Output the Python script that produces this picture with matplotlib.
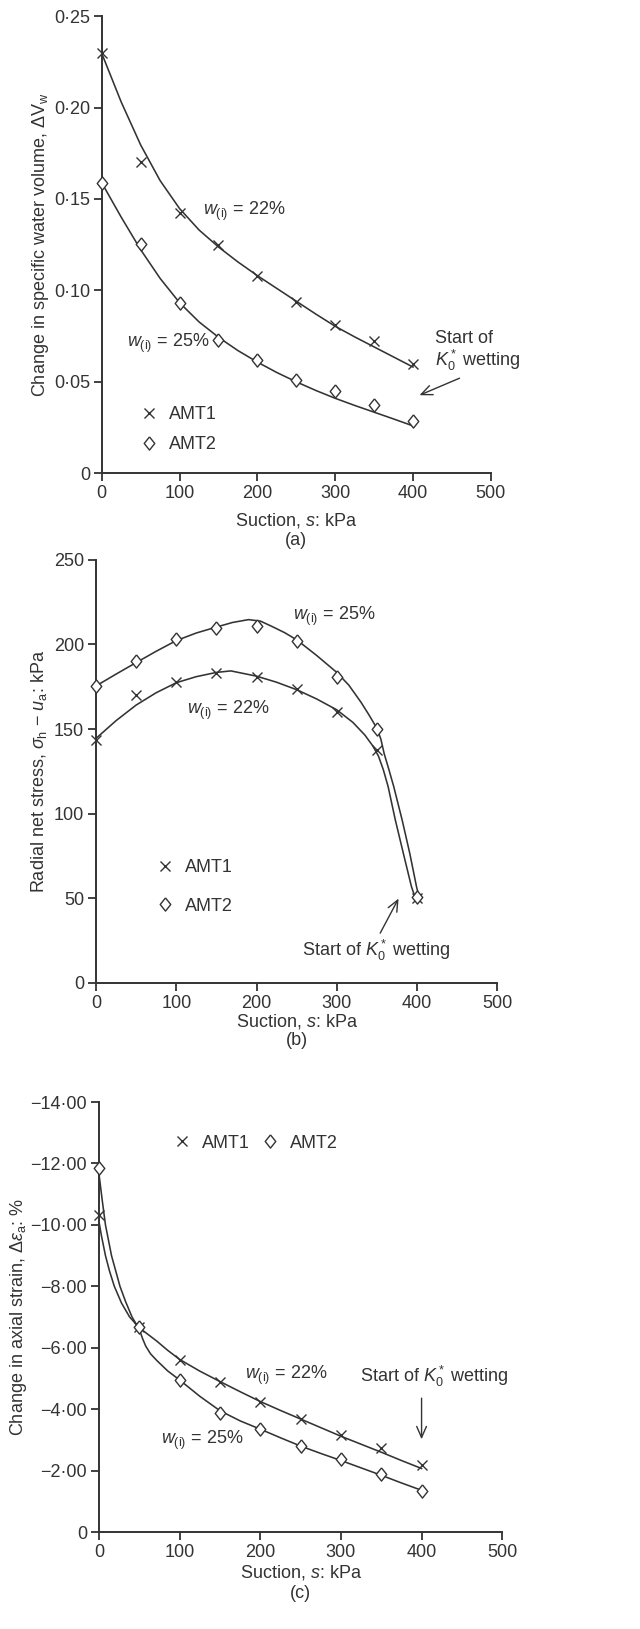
import matplotlib
matplotlib.use('Agg')
import matplotlib.pyplot as plt

plt.rcParams['font.family'] = ['Liberation Sans Narrow', 'Liberation Sans', 'DejaVu Sans']
plt.rcParams['mathtext.fontset'] = 'custom'
plt.rcParams['mathtext.rm'] = 'Liberation Sans'
plt.rcParams['mathtext.it'] = 'Liberation Sans:italic'
plt.rcParams['mathtext.bf'] = 'Liberation Sans:bold'

INK = '#333333'
FS = 13
DIAMOND = [(0, 1), (0.8, 0), (0, -1), (-0.8, 0), (0, 1)]

# measured points (suction, kPa)
suction = [0, 50, 100, 150, 200, 250, 300, 350, 400]

# (a) change in specific water volume
dvw_amt1 = [0.230, 0.170, 0.1425, 0.1246, 0.1077, 0.0936, 0.0808, 0.072, 0.0599]
dvw_amt2 = [0.1588, 0.1252, 0.0931, 0.0726, 0.0620, 0.0511, 0.0449, 0.037, 0.0283]
fit_a_s = [0, 25, 50, 75, 100, 125, 150, 175, 200, 225, 250, 275, 300, 325, 350, 375, 400]
fit_a_amt1 = [0.2296, 0.2030, 0.1795, 0.1600, 0.1447, 0.1330, 0.1237, 0.1155, 0.1080, 0.1010, 0.0940,
              0.0870, 0.0803, 0.0745, 0.0690, 0.0635, 0.0580]
fit_a_amt2 = [0.1588, 0.1400, 0.1222, 0.1065, 0.0932, 0.0827, 0.0743, 0.0670, 0.0607, 0.0550, 0.0499,
              0.0452, 0.0409, 0.0370, 0.0333, 0.0296, 0.0258]
ticks_a = [0, 0.05, 0.10, 0.15, 0.20, 0.25]
ticklabels_a = ['0', '0·05', '0·10', '0·15', '0·20', '0·25']

# (b) radial net stress
sig_amt1 = [143.5, 170, 178, 183, 180.6, 173.7, 160, 137.6, 50]
sig_amt2 = [175.5, 190, 203, 210, 211, 202, 181, 150, 51]
fit_b1_s = [0, 25, 50, 75, 100, 125, 150, 168, 200, 225, 250, 275, 300, 320, 335, 345, 352, 358, 364, 373, 383,
            393, 398]
fit_b1 = [144.5, 155, 164.2, 171.5, 177.4, 181, 183.5, 184.4, 181.3, 177.7, 173.3, 167.8, 161.4, 154, 146.5, 140,
          134, 126, 116, 96.2, 76.5, 57, 50]
fit_b2_s = [0, 25, 50, 75, 100, 125, 150, 170, 190, 205, 220, 235, 250, 275, 300, 315, 330, 340, 350, 355, 359,
            365, 371, 381.5, 391, 399.4, 402]
fit_b2 = [175.5, 182.5, 189.3, 196, 202.3, 206.8, 210.3, 213, 214.7, 213.8, 210.5, 207, 202.8, 193.5, 183.5, 176,
          166, 158.5, 150.5, 144, 135.6, 126, 116, 96.2, 76.5, 56.8, 51.8]
ticks_b = [0, 50, 100, 150, 200, 250]

# (c) change in axial strain
eps_amt1 = [-10.32, -6.68, -5.59, -4.89, -4.24, -3.67, -3.15, -2.75, -2.17]
eps_amt2 = [-11.84, -6.66, -4.94, -3.89, -3.35, -2.81, -2.37, -1.88, -1.34]
fit_c1_s = [0, 3, 8, 13, 19, 28, 38, 50, 60, 71.5, 85, 100, 125, 150, 175, 200, 225, 250, 275, 300, 325, 350,
            375, 400]
fit_c1 = [-10.1, -9.65, -9.0, -8.5, -8.0, -7.45, -7.0, -6.65, -6.45, -6.22, -5.92, -5.62, -5.24, -4.9, -4.57,
          -4.25, -3.96, -3.68, -3.4, -3.12, -2.86, -2.6, -2.33, -2.07]
fit_c2_s = [0, 4, 8, 15.5, 26, 33, 41, 50, 54, 58, 64, 71.5, 85, 100, 125, 150, 175, 200, 225, 250, 275, 300,
            325, 350, 375, 400]
fit_c2 = [-11.65, -10.8, -10.0, -9.0, -8.0, -7.5, -7.0, -6.6, -6.3, -6.05, -5.8, -5.59, -5.25, -4.95, -4.42,
          -3.95, -3.62, -3.35, -3.07, -2.8, -2.56, -2.33, -2.09, -1.85, -1.6, -1.36]
ticks_c = [0, -2, -4, -6, -8, -10, -12, -14]
ticklabels_c = ['0', '−2·00', '−4·00', '−6·00', '−8·00', '−10·00', '−12·00', '−14·00']

xticks = [0, 100, 200, 300, 400, 500]
W22 = r'$w_{\mathrm{(i)}}$ = 22%'
W25 = r'$w_{\mathrm{(i)}}$ = 25%'
K0 = r'$K_0^*$ wetting'
ARROW = dict(arrowstyle='->,head_length=0.8,head_width=0.35', color=INK, lw=1.0)

fig = plt.figure(figsize=(6.4, 16.29), dpi=100)
ax_a = fig.add_axes([0.159, 0.7096, 0.608, 0.2805])
ax_b = fig.add_axes([0.150, 0.3966, 0.627, 0.2597])
ax_c = fig.add_axes([0.1547, 0.0595, 0.630, 0.264])


def style(ax, tag, lab_y, tag_y):
    for side in ['top', 'right']:
        ax.spines[side].set_visible(False)
    for side in ['left', 'bottom']:
        ax.spines[side].set_linewidth(1.4)
        ax.spines[side].set_color(INK)
    ax.tick_params(direction='out', length=5.5, width=1.3, colors=INK, labelsize=FS, pad=3)
    ax.set_xlim(0, 500)
    ax.set_xticks(xticks)
    ax.text(0.5, lab_y, 'Suction, $s$: kPa', transform=ax.transAxes, ha='center', va='center',
            fontsize=FS, color=INK)
    ax.text(0.5, tag_y, tag, transform=ax.transAxes, ha='center', va='center', fontsize=FS, color=INK)


def draw(ax, s1, y1, s2, y2, m1, m2):
    ax.plot(s1, y1, color=INK, lw=1.15, zorder=2, clip_on=False)
    ax.plot(s2, y2, color=INK, lw=1.15, zorder=2, clip_on=False)
    h1, = ax.plot(suction, m1, ls='none', marker='x', ms=7.5, mew=1.0, color=INK, clip_on=False, zorder=3)
    h2, = ax.plot(suction, m2, ls='none', marker=DIAMOND, ms=9.5, mew=1.0, mfc='white', color=INK,
                  clip_on=False, zorder=3)
    return h1, h2


# (a)
h1, h2 = draw(ax_a, fit_a_s, fit_a_amt1, fit_a_s, fit_a_amt2, dvw_amt1, dvw_amt2)
style(ax_a, '(a)', -0.103, -0.147)
ax_a.set_ylim(0, 0.25)
ax_a.set_yticks(ticks_a)
ax_a.set_yticklabels(ticklabels_a)
ax_a.set_ylabel(r'Change in specific water volume, $\Delta\mathrm{V}_{\mathrm{w}}$', fontsize=FS, color=INK)
ax_a.yaxis.set_label_coords(-0.131, 0.5)
ax_a.legend([h1, h2], ['AMT1', 'AMT2'], loc='center left', bbox_to_anchor=(0.074, 0.095), frameon=False,
            fontsize=FS, handlelength=1.0, handletextpad=0.6, labelspacing=0.75, borderpad=0, labelcolor=INK)
ax_a.text(130, 0.1434, W22, fontsize=FS, color=INK, va='center')
ax_a.text(33, 0.0708, W25, fontsize=FS, color=INK, va='center')
ax_a.text(428, 0.0735, 'Start of', fontsize=FS, color=INK, va='center')
ax_a.text(428, 0.0617, K0, fontsize=FS, color=INK, va='center')
ax_a.annotate('', xy=(405, 0.042), xytext=(463, 0.0525), arrowprops=ARROW, annotation_clip=False)

# (b)
h1, h2 = draw(ax_b, fit_b1_s, fit_b1, fit_b2_s, fit_b2, sig_amt1, sig_amt2)
style(ax_b, '(b)', -0.090, -0.135)
ax_b.set_ylim(0, 250)
ax_b.set_yticks(ticks_b)
ax_b.set_ylabel(r'Radial net stress, $\sigma_{\mathrm{h}}$ − $u_{\mathrm{a}}$: kPa', fontsize=FS, color=INK)
ax_b.yaxis.set_label_coords(-0.117, 0.5)
ax_b.legend([h1, h2], ['AMT1', 'AMT2'], loc='center left', bbox_to_anchor=(0.128, 0.227), frameon=False,
            fontsize=FS, handlelength=1.0, handletextpad=0.6, labelspacing=1.2, borderpad=0, labelcolor=INK)
ax_b.text(245, 216.5, W25, fontsize=FS, color=INK, va='center')
ax_b.text(113, 161, W22, fontsize=FS, color=INK, va='center')
ax_b.text(257, 19.3, 'Start of ' + K0, fontsize=FS, color=INK, va='center')
ax_b.annotate('', xy=(378.6, 51.3), xytext=(352.5, 28), arrowprops=ARROW)

# (c)
h1, h2 = draw(ax_c, fit_c1_s, fit_c1, fit_c2_s, fit_c2, eps_amt1, eps_amt2)
style(ax_c, '(c)', -0.093, -0.142)
ax_c.set_ylim(0, -14)
ax_c.set_yticks(ticks_c)
ax_c.set_yticklabels(ticklabels_c)
ax_c.set_ylabel(r'Change in axial strain, $\Delta\varepsilon_{\mathrm{a}}$: %', fontsize=FS, color=INK)
ax_c.yaxis.set_label_coords(-0.174, 0.5)
ax_c.legend([h1, h2], ['AMT1', 'AMT2'], loc='center left', bbox_to_anchor=(0.162, 0.904), frameon=False,
            ncol=2, fontsize=FS, handlelength=1.0, handletextpad=0.6, columnspacing=0.6, borderpad=0,
            labelcolor=INK)
ax_c.text(181, -5.1, W22, fontsize=FS, color=INK, va='center')
ax_c.text(77, -2.99, W25, fontsize=FS, color=INK, va='center')
ax_c.text(324, -5.05, 'Start of ' + K0, fontsize=FS, color=INK, va='center')
ax_c.annotate('', xy=(400, -2.93), xytext=(400, -4.45), arrowprops=ARROW)

fig.savefig('out.png', dpi=100)
